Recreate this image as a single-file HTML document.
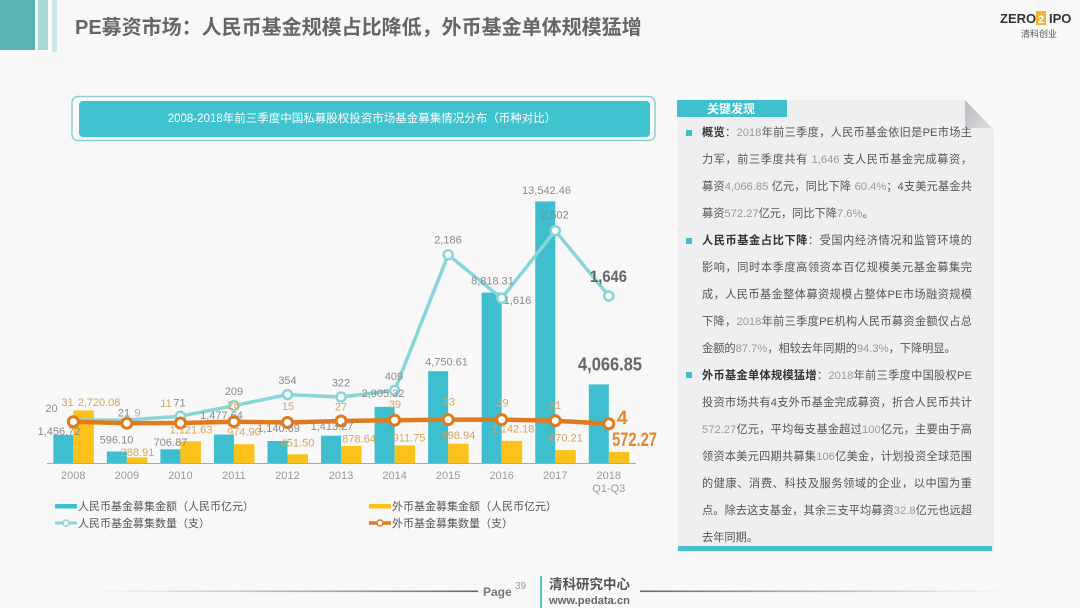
<!DOCTYPE html>
<html><head><meta charset="utf-8">
<style>
html,body{margin:0;padding:0;}
body{width:1080px;height:608px;overflow:hidden;background:#f8f8f8;position:relative;font-family:"Liberation Sans","Noto Sans CJK SC",sans-serif;}
.abs{position:absolute;}
.title{left:75px;top:14px;font-size:20px;font-weight:bold;color:#666;white-space:nowrap;line-height:28px;}
.panel-text{left:702px;top:120px;width:270px;font-size:11.2px;color:#555;}
.panel-text div{height:27px;line-height:27px;white-space:nowrap;text-align:justify;text-align-last:justify;}
.panel-text div.s{text-align-last:left;}
.panel-text b{color:#333;}
.panel-text .n{color:#999;}
.bul{position:absolute;left:686px;width:6px;height:6px;background:#3fbfcd;}
</style></head>
<body>
<svg class="abs" style="left:0;top:0" width="1080" height="608" viewBox="0 0 1080 608" xmlns="http://www.w3.org/2000/svg">
<defs>
<linearGradient id="gl" x1="0" x2="1" y1="0" y2="0"><stop offset="0" stop-color="#888" stop-opacity="0"/><stop offset="1" stop-color="#666"/></linearGradient>
<linearGradient id="gr" x1="0" x2="1" y1="0" y2="0"><stop offset="0" stop-color="#666"/><stop offset="1" stop-color="#888" stop-opacity="0"/></linearGradient>
<linearGradient id="gf" x1="0" x2="1" y1="0" y2="1"><stop offset="0" stop-color="#b9b9be"/><stop offset="1" stop-color="#dcdce0"/></linearGradient>
</defs>
<!-- top-left decoration -->
<rect x="0" y="0" width="35" height="50" fill="#58b3b3"/>
<rect x="38" y="0" width="10" height="50" fill="#a8d7d7"/>
<rect x="52" y="0" width="5" height="52" fill="#cbe8e8"/>
<!-- logo -->
<text x="1000" y="23" font-size="13" font-weight="bold" fill="#333" font-family="Liberation Sans, sans-serif">ZERO</text>
<rect x="1036" y="11" width="10" height="14" fill="#f2b632"/>
<text x="1038" y="23" font-size="11" font-weight="bold" fill="#fff" font-family="Liberation Sans, sans-serif">2</text>
<text x="1049" y="23" font-size="13" font-weight="bold" fill="#333" font-family="Liberation Sans, sans-serif">IPO</text>
<text x="1021" y="37" font-size="9" fill="#555" font-family="Noto Sans CJK SC, sans-serif">清科创业</text>

<!-- chart title box -->
<rect x="72" y="96.5" width="583" height="44" rx="6" fill="#f8f8f8" stroke="#8fcfd4" stroke-width="1.5"/>
<rect x="79" y="101" width="571" height="36" rx="4" fill="#3ec3cf"/>
<text x="362" y="122" font-size="11.5" fill="#fff" text-anchor="middle" font-family="Liberation Sans, Noto Sans CJK SC, sans-serif">2008-2018年前三季度中国私募股权投资市场基金募集情况分布（币种对比）</text>

<!-- bars -->
<g fill="#3dbfcf">
<rect x="53.3" y="434.9" width="20" height="28.1"/>
<rect x="106.85" y="451.5" width="20" height="11.5"/>
<rect x="160.4" y="449.3" width="20" height="13.7"/>
<rect x="213.95" y="434.5" width="20" height="28.5"/>
<rect x="267.5" y="441" width="20" height="22"/>
<rect x="321.05" y="435.7" width="20" height="27.3"/>
<rect x="374.6" y="406.9" width="20" height="56.1"/>
<rect x="428.15" y="371.2" width="20" height="91.8"/>
<rect x="481.7" y="292.6" width="20" height="170.4"/>
<rect x="535.25" y="201.4" width="20" height="261.6"/>
<rect x="588.8" y="384.4" width="20" height="78.6"/>
</g>
<g fill="#fbc21b">
<rect x="73.3" y="410.4" width="20.5" height="52.6"/>
<rect x="126.85" y="457.4" width="20.5" height="5.6"/>
<rect x="180.4" y="441.3" width="20.5" height="21.7"/>
<rect x="233.95" y="444.2" width="20.5" height="18.8"/>
<rect x="287.5" y="454.3" width="20.5" height="8.7"/>
<rect x="341.05" y="446" width="20.5" height="17"/>
<rect x="394.6" y="445.4" width="20.5" height="17.6"/>
<rect x="448.15" y="443.7" width="20.5" height="19.3"/>
<rect x="501.7" y="440.9" width="20.5" height="22.1"/>
<rect x="555.25" y="450.1" width="20.5" height="12.9"/>
<rect x="608.8" y="451.9" width="20.5" height="11.1"/>
</g>
<line x1="47" y1="463.5" x2="636" y2="463.5" stroke="#aaa" stroke-width="1"/>

<!-- teal line -->
<polyline fill="none" stroke="#88d5da" stroke-width="3.5" stroke-linejoin="round" points="73.3,420.1 126.85,420 180.4,416.2 233.95,405.7 287.5,394.6 341.05,397 394.6,390.4 448.15,254.8 501.7,298.3 555.25,230.7 608.8,296"/>
<g fill="#fff" stroke="#88d5da" stroke-width="2.5">
<circle cx="180.4" cy="416.2" r="4.5"/><circle cx="233.95" cy="405.7" r="4.5"/><circle cx="287.5" cy="394.6" r="4.5"/><circle cx="341.05" cy="397" r="4.5"/><circle cx="394.6" cy="390.4" r="4.5"/><circle cx="448.15" cy="254.8" r="4.5"/><circle cx="501.7" cy="298.3" r="4.5"/><circle cx="555.25" cy="230.7" r="4.5"/><circle cx="608.8" cy="296" r="4.5"/>
</g>
<!-- orange line -->
<polyline fill="none" stroke="#e07a1e" stroke-width="4.5" stroke-linejoin="round" points="73.3,421.7 126.85,423.2 180.4,423 233.95,421.7 287.5,422.5 341.05,421 394.6,420.2 448.15,419.6 501.7,419.6 555.25,420.7 608.8,423.8"/>
<g fill="#fff" stroke="#e07a1e" stroke-width="3">
<circle cx="73.3" cy="421.7" r="5"/><circle cx="126.85" cy="423.2" r="5"/><circle cx="180.4" cy="423" r="5"/><circle cx="233.95" cy="421.7" r="5"/><circle cx="287.5" cy="422.5" r="5"/><circle cx="341.05" cy="421" r="5"/><circle cx="394.6" cy="420.2" r="5"/><circle cx="448.15" cy="419.6" r="5"/><circle cx="501.7" cy="419.6" r="5"/><circle cx="555.25" cy="420.7" r="5"/><circle cx="608.8" cy="423.8" r="5"/>
</g>

<!-- data labels gray -->
<g font-size="11" fill="#8a8a8a" text-anchor="middle" font-family="Liberation Sans, sans-serif">
<text x="51.5" y="412">20</text>
<text x="59" y="435">1,456.72</text>
<text x="116.5" y="443.5">596.10</text>
<text x="124" y="416.5">21</text>
<text x="179.5" y="406.5">71</text>
<text x="170.5" y="446">706.87</text>
<text x="234" y="395">209</text>
<text x="221.5" y="419">1,477.64</text>
<text x="287.5" y="384">354</text>
<text x="278.5" y="432">1,140.69</text>
<text x="341" y="386.7">322</text>
<text x="332" y="430">1,413.27</text>
<text x="394" y="380">409</text>
<text x="383" y="397">2,905.32</text>
<text x="446.5" y="365.7">4,750.61</text>
<text x="448" y="243.3">2,186</text>
<text x="492.5" y="284.7">8,818.31</text>
<text x="517.5" y="304">1,616</text>
<text x="546.5" y="194">13,542.46</text>
<text x="555" y="218.3">2,502</text>
</g>
<g font-size="11" fill="#d6a55e" text-anchor="middle" font-family="Liberation Sans, sans-serif">
<text x="67.5" y="406">31</text>
<text x="99" y="406">2,720.08</text>
<text x="137.5" y="416.5">9</text>
<text x="137.5" y="456">288.91</text>
<text x="166" y="407">11</text>
<text x="191" y="433.3">1,121.63</text>
<text x="233.5" y="409">26</text>
<text x="244" y="435.7">974.90</text>
<text x="288" y="410">15</text>
<text x="297.5" y="446.7">451.50</text>
<text x="341" y="410.7">27</text>
<text x="359" y="442.3">878.64</text>
<text x="395" y="408">39</text>
<text x="409" y="441.5">911.75</text>
<text x="449" y="405.7">33</text>
<text x="458.5" y="439">998.94</text>
<text x="502.5" y="406.7">39</text>
<text x="513" y="432.3">1,142.18</text>
<text x="555" y="409">31</text>
<text x="566" y="441.3">670.21</text>
</g>
<g font-weight="bold" font-family="Liberation Sans, sans-serif">
<text x="590" y="282" font-size="17" fill="#666" textLength="37" lengthAdjust="spacingAndGlyphs">1,646</text>
<text x="578" y="370.5" font-size="18" fill="#666" textLength="64" lengthAdjust="spacingAndGlyphs">4,066.85</text>
<text x="617" y="424" font-size="19" fill="#e8862a">4</text>
<text x="612" y="446" font-size="19" fill="#e8862a" textLength="45" lengthAdjust="spacingAndGlyphs">572.27</text>
</g>
<!-- year labels -->
<g font-size="11" fill="#999" text-anchor="middle" font-family="Liberation Sans, sans-serif">
<text x="73.3" y="479">2008</text><text x="126.85" y="479">2009</text><text x="180.4" y="479">2010</text><text x="233.95" y="479">2011</text><text x="287.5" y="479">2012</text><text x="341.05" y="479">2013</text><text x="394.6" y="479">2014</text><text x="448.15" y="479">2015</text><text x="501.7" y="479">2016</text><text x="555.25" y="479">2017</text><text x="608.8" y="479">2018</text><text x="608.8" y="492">Q1-Q3</text>
</g>
<!-- legend -->
<rect x="55" y="504" width="22" height="4.5" fill="#3dbfcf"/>
<line x1="55" y1="523" x2="77" y2="523" stroke="#88d5da" stroke-width="3"/>
<circle cx="66" cy="523" r="3" fill="#fff" stroke="#88d5da" stroke-width="1.5"/>
<rect x="369" y="504" width="22" height="4.5" fill="#fbc21b"/>
<line x1="369" y1="523" x2="391" y2="523" stroke="#e07a1e" stroke-width="3.5"/>
<circle cx="380" cy="523" r="3" fill="#fff" stroke="#e07a1e" stroke-width="1.5"/>
<g font-size="11" fill="#555" font-family="Liberation Sans, Noto Sans CJK SC, sans-serif">
<text x="78" y="510">人民币基金募集金额（人民币亿元）</text>
<text x="78" y="527">人民币基金募集数量（支）</text>
<text x="392" y="510">外币基金募集金额（人民币亿元）</text>
<text x="392" y="527">外币基金募集数量（支）</text>
</g>

<!-- right panel -->
<polygon points="680,102 967,102 994,130 994,552 680,552" fill="#e2e2e5" opacity="0.6"/>
<polygon points="678,100 965,100 992,128 992,550 678,550" fill="#efeff1"/>
<polygon points="965,100 992,128 965,128" fill="url(#gf)"/>
<rect x="677" y="100" width="110" height="17" fill="#3fc0cc"/>
<text x="707" y="113" font-size="12" font-weight="bold" fill="#fff" font-family="Noto Sans CJK SC, sans-serif">关键发现</text>
<rect x="678" y="546" width="314" height="5" fill="#45c0cc"/>

<!-- footer -->
<rect x="90" y="590.5" width="388" height="1.6" fill="url(#gl)"/>
<text x="483" y="596" font-size="12" font-weight="bold" fill="#777" font-family="Liberation Sans, sans-serif">Page</text>
<text x="515" y="589" font-size="10" fill="#999" font-family="Liberation Sans, sans-serif">39</text>
<rect x="540" y="576" width="2" height="32" fill="#5bbfc5"/>
<text x="549" y="589" font-size="13.5" font-weight="bold" fill="#555" font-family="Noto Sans CJK SC, sans-serif">清科研究中心</text>
<text x="549" y="604" font-size="11" font-weight="bold" fill="#666" font-family="Liberation Sans, sans-serif" textLength="81" lengthAdjust="spacingAndGlyphs">www.pedata.cn</text>
<rect x="640" y="590.5" width="370" height="1.6" fill="url(#gr)"/>
</svg>

<div class="abs title">PE募资市场：人民币基金规模占比降低，外币基金单体规模猛增</div>

<div class="bul" style="top:130px"></div>
<div class="bul" style="top:238px"></div>
<div class="bul" style="top:372px"></div>
<div class="abs panel-text">
<div><b>概览</b>：<span class="n">2018</span>年前三季度，人民币基金依旧是PE市场主</div>
<div>力军，前三季度共有 <span class="n">1,646</span> 支人民币基金完成募资，</div>
<div>募资<span class="n">4,066.85</span> 亿元，同比下降 <span class="n">60.4%</span>；4支美元基金共</div>
<div class="s">募资<span class="n">572.27</span>亿元，同比下降<span class="n">7.6%</span>。</div>
<div><b>人民币基金占比下降</b>：受国内经济情况和监管环境的</div>
<div>影响，同时本季度高领资本百亿规模美元基金募集完</div>
<div>成，人民币基金整体募资规模占整体PE市场融资规模</div>
<div>下降，<span class="n">2018</span>年前三季度PE机构人民币募资金额仅占总</div>
<div class="s">金额的<span class="n">87.7%</span>，相较去年同期的<span class="n">94.3%</span>，下降明显。</div>
<div><b>外币基金单体规模猛增</b>：<span class="n">2018</span>年前三季度中国股权PE</div>
<div>投资市场共有4支外币基金完成募资，折合人民币共计</div>
<div><span class="n">572.27</span>亿元，平均每支基金超过<span class="n">100</span>亿元，主要由于高</div>
<div>领资本美元四期共募集<span class="n">106</span>亿美金，计划投资全球范围</div>
<div>的健康、消费、科技及服务领域的企业，以中国为重</div>
<div>点。除去这支基金，其余三支平均募资<span class="n">32.8</span>亿元也远超</div>
<div class="s">去年同期。</div>
</div>
</body></html>
